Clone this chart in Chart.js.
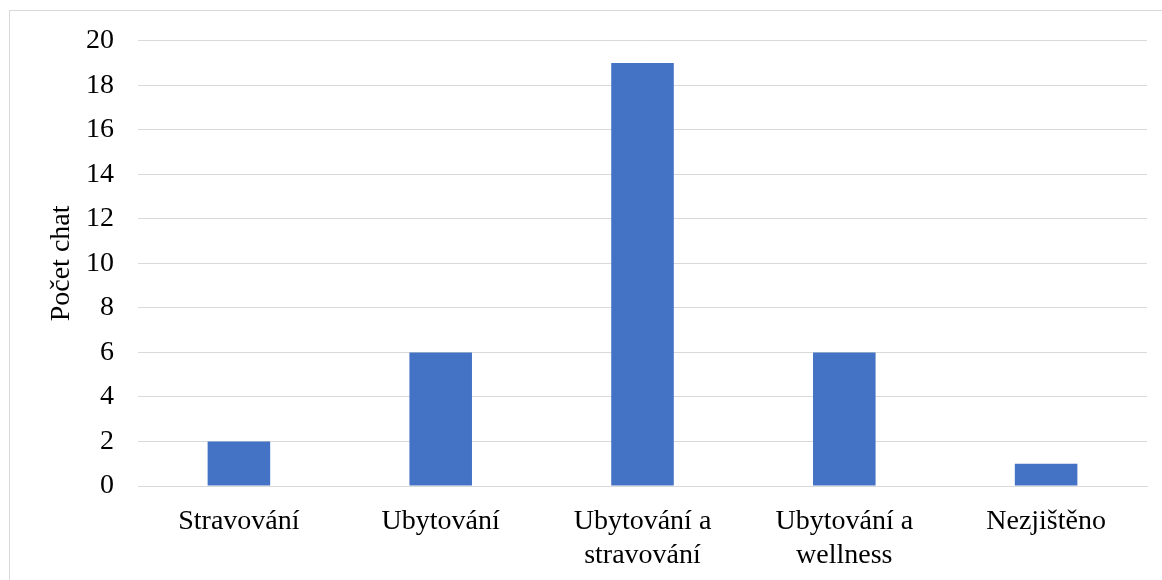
<!DOCTYPE html>
<html>
<head>
<meta charset="utf-8">
<script src="https://cdn.jsdelivr.net/npm/chart.js@4/dist/chart.umd.min.js"></script>
<style>
  html, body { margin: 0; padding: 0; background: #fff; overflow: hidden; }
  #wrap { position: relative; width: 1162px; height: 580px; overflow: hidden; }
  #frame { position: absolute; left: 9px; top: 10px; width: 1200px; height: 700px; border: 1px solid #d9d9d9; box-sizing: border-box; }
  canvas { position: absolute; left: 0; top: 0; }
</style>
</head>
<body>
<div id="wrap">
  <div id="frame"></div>
  <canvas id="c" width="1162" height="580"></canvas>
</div>
<script>
const categories = ["Stravování", ["Ubytování"], ["Ubytování a", "stravování"], ["Ubytování a", "wellness"], "Nezjištěno"];
const values = [2, 6, 19, 6, 1];
const yAxisTitle = "Počet chat";

const FONT = "'Liberation Serif', 'Times New Roman', serif";

new Chart(document.getElementById('c'), {
  type: 'bar',
  data: {
    labels: categories,
    datasets: [{
      data: values,
      backgroundColor: '#4472C4',
      borderWidth: 0,
      barPercentage: 0.31,
      categoryPercentage: 1.0
    }]
  },
  options: {
    responsive: false,
    animation: false,
    devicePixelRatio: 1,
    layout: { padding: { left: 45, right: 15, top: 40, bottom: 0 } },
    plugins: { legend: { display: false }, tooltip: { enabled: false } },
    scales: {
      x: {
        grid: { display: false, drawTicks: false },
        border: { display: true, color: '#d9d9d9', width: 1 },
        ticks: { color: '#000', font: { family: FONT, size: 28, lineHeight: 1.2 }, padding: 19, maxRotation: 0, autoSkip: false },
        afterFit: (s) => { s.height = 94; }
      },
      y: {
        min: 0, max: 20,
        grid: { color: '#d9d9d9', lineWidth: 1, drawTicks: false },
        border: { display: false },
        ticks: { stepSize: 2, color: '#000', font: { family: FONT, size: 28 }, padding: 24 },
        title: { display: true, text: yAxisTitle, color: '#000', font: { family: FONT, size: 28 }, padding: 0 },
        afterFit: (s) => { s.width = 93; }
      }
    }
  }
});
</script>
</body>
</html>
